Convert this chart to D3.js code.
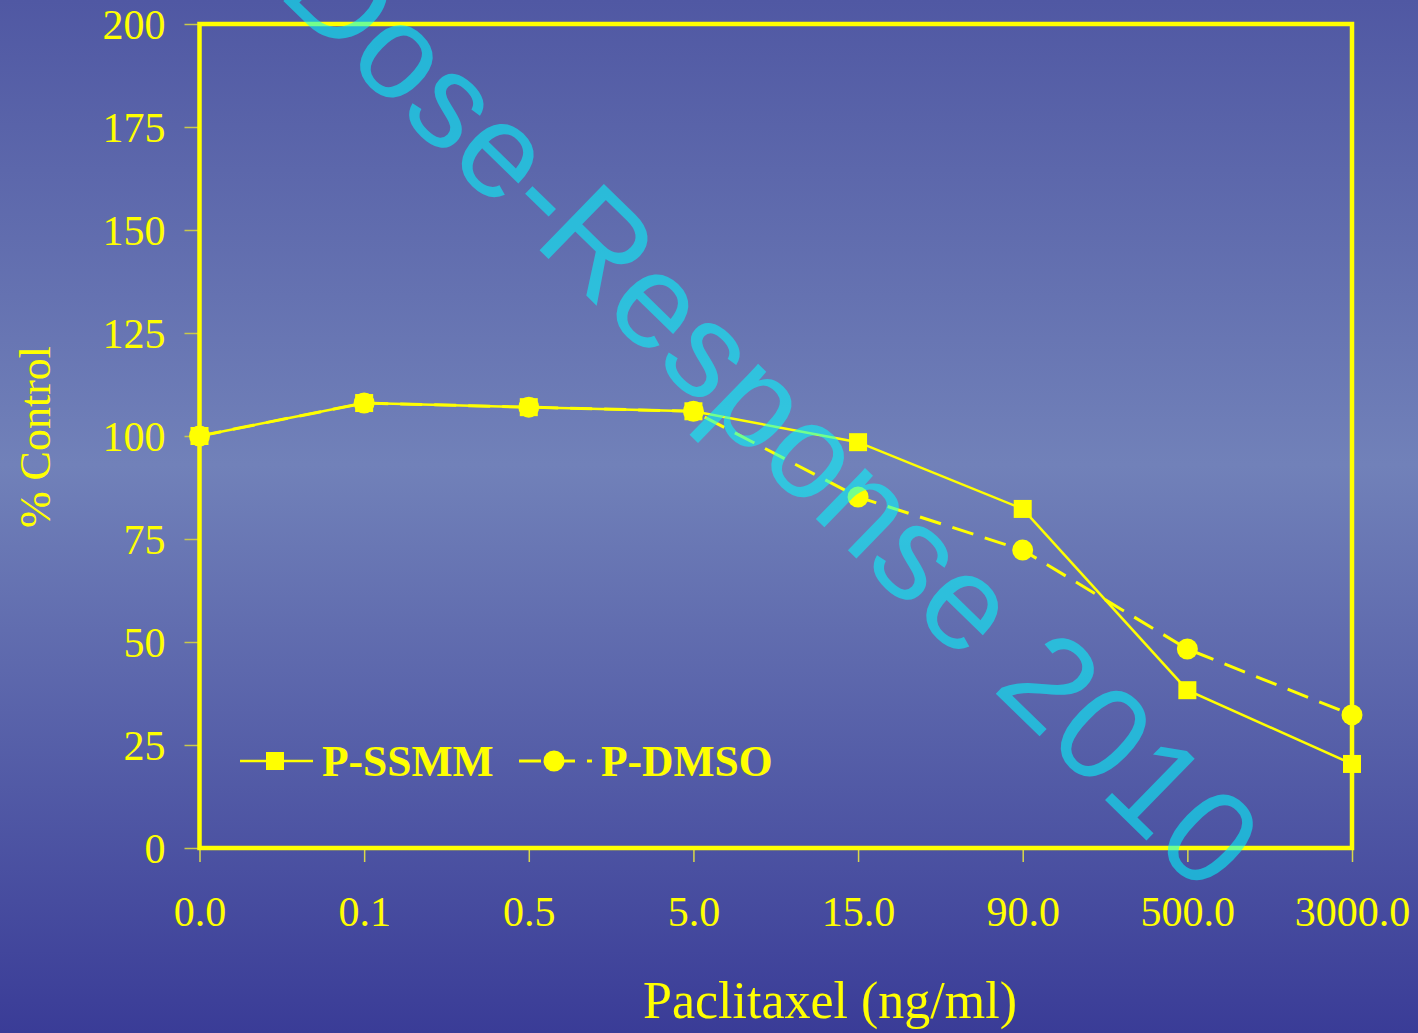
<!DOCTYPE html>
<html>
<head>
<meta charset="utf-8">
<script src="https://cdn.jsdelivr.net/npm/d3@7"></script>
<style>
  html, body { margin: 0; padding: 0; background: #5a66aa; }
  svg { display: block; }
</style>
</head>
<body>
<svg id="chart" width="1418" height="1033"></svg>
<script>
// Paclitaxel dose levels (ng/ml) shown as evenly spaced categories
const doses = ["0.0", "0.1", "0.5", "5.0", "15.0", "90.0", "500.0", "3000.0"];
// % of control response for each formulation
const ssmmValues = [100, 108, 107, 106, 98.5, 82.3, 38.3, 20.4];
const dmsoValues = [100, 108, 107, 106, 85.2, 72.3, 48.3, 32.3];
const yTicks = [0, 25, 50, 75, 100, 125, 150, 175, 200];
const seriesNames = ["P-SSMM", "P-DMSO"];

const W = 1418, H = 1033;
const plotLeft = 199.5, plotRight = 1352, plotTop = 24, plotBottom = 848;
const yellow = "#ffff00";
const serif = "'Liberation Serif', 'Times New Roman', serif";

const svg = d3.select("#chart");

// background gradient
const defs = svg.append("defs");
const grad = defs.append("linearGradient")
  .attr("id", "bg").attr("x1", 0).attr("y1", 0).attr("x2", 0).attr("y2", 1);
grad.append("stop").attr("offset", "0%").attr("stop-color", "#5058a3");
grad.append("stop").attr("offset", "45%").attr("stop-color", "#7181b9");
grad.append("stop").attr("offset", "100%").attr("stop-color", "#3a3c97");
svg.append("rect").attr("width", W).attr("height", H).attr("fill", "url(#bg)");

const x = d3.scalePoint().domain(doses).range([plotLeft, plotRight]);
const y = d3.scaleLinear().domain([0, 200]).range([plotBottom, plotTop]);

// y axis ticks and labels
const yAxis = svg.append("g").attr("transform", `translate(${plotLeft},0)`)
  .call(d3.axisLeft(y).tickValues(yTicks).tickSize(15).tickPadding(19).tickFormat(d3.format("d")));
yAxis.select(".domain").remove();
yAxis.selectAll(".tick line").attr("stroke", "#c9c94a").attr("stroke-width", 1.5);
yAxis.selectAll(".tick text")
  .attr("fill", yellow)
  .attr("font-family", serif)
  .attr("font-size", 42)
  .attr("dy", "0.34em");

// x axis ticks and labels
const xAxis = svg.append("g").attr("transform", `translate(0,${plotBottom})`)
  .call(d3.axisBottom(x).tickSize(14).tickPadding(56));
xAxis.select(".domain").remove();
xAxis.selectAll(".tick line").attr("stroke", "#d8d84a").attr("stroke-width", 1.5);
xAxis.selectAll(".tick text")
  .attr("fill", yellow)
  .attr("font-family", serif)
  .attr("font-size", 42)
  .attr("dy", "0.2em");

// plot frame
svg.append("rect")
  .attr("x", plotLeft).attr("y", plotTop)
  .attr("width", plotRight - plotLeft).attr("height", plotBottom - plotTop)
  .attr("fill", "none").attr("stroke", yellow).attr("stroke-width", 4.5);

// axis titles
svg.append("text")
  .attr("transform", `translate(50,437) rotate(-90)`)
  .attr("text-anchor", "middle")
  .attr("fill", yellow)
  .attr("font-family", serif)
  .attr("font-size", 44)
  .text("% Control");

svg.append("text")
  .attr("x", 830).attr("y", 1018)
  .attr("text-anchor", "middle")
  .attr("fill", yellow)
  .attr("font-family", serif)
  .attr("font-size", 52)
  .text("Paclitaxel (ng/ml)");

// series lines
const line = d3.line().x((d, i) => x(doses[i])).y(d => y(d));

svg.append("path").datum(ssmmValues)
  .attr("d", line).attr("fill", "none")
  .attr("stroke", yellow).attr("stroke-width", 2.5);

svg.append("path").datum(dmsoValues)
  .attr("d", line).attr("fill", "none")
  .attr("stroke", yellow).attr("stroke-width", 3)
  .attr("stroke-dasharray", "22,12");

// markers
const sq = 18;
svg.append("g").selectAll("rect").data(ssmmValues).join("rect")
  .attr("x", (d, i) => x(doses[i]) - sq / 2)
  .attr("y", d => y(d) - sq / 2)
  .attr("width", sq).attr("height", sq)
  .attr("fill", yellow);

svg.append("g").selectAll("circle").data(dmsoValues).join("circle")
  .attr("cx", (d, i) => x(doses[i]))
  .attr("cy", d => y(d))
  .attr("r", 10.5)
  .attr("fill", yellow);

// legend
const legend = svg.append("g");
const legY = 761;
legend.append("line").attr("x1", 240).attr("x2", 313).attr("y1", legY).attr("y2", legY)
  .attr("stroke", yellow).attr("stroke-width", 2.5);
legend.append("rect").attr("x", 275 - sq / 2).attr("y", legY - sq / 2)
  .attr("width", sq).attr("height", sq).attr("fill", yellow);
legend.append("text").attr("x", 322).attr("y", legY + 15)
  .attr("fill", yellow)
  .attr("font-family", serif)
  .attr("font-weight", "bold").attr("font-size", 43.5)
  .text(seriesNames[0]);

legend.append("line").attr("x1", 519).attr("x2", 592).attr("y1", legY).attr("y2", legY)
  .attr("stroke", yellow).attr("stroke-width", 3).attr("stroke-dasharray", "22,12");
legend.append("circle").attr("cx", 554).attr("cy", legY).attr("r", 10.5).attr("fill", yellow);
legend.append("text").attr("x", 601).attr("y", legY + 15)
  .attr("fill", yellow)
  .attr("font-family", serif)
  .attr("font-weight", "bold").attr("font-size", 43.5)
  .text(seriesNames[1]);

// diagonal watermark
svg.append("text")
  .attr("transform", "translate(740,445) rotate(44.2)")
  .attr("text-anchor", "middle")
  .attr("fill", "#00ffff")
  .attr("fill-opacity", 0.55)
  .attr("font-family", "'Liberation Sans', Arial, sans-serif")
  .attr("font-size", 134)
  .text("Dose-Response 2010");
</script>
</body>
</html>
